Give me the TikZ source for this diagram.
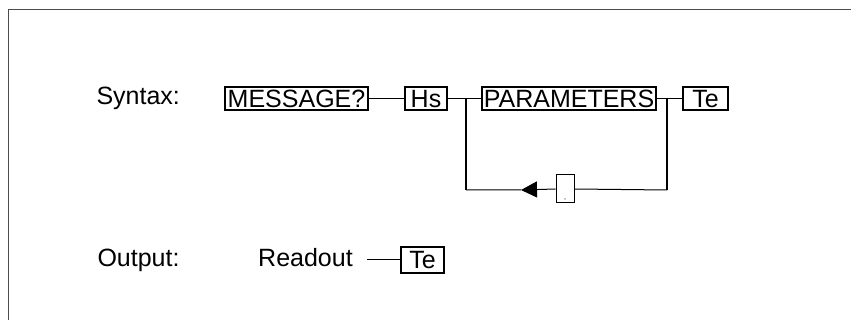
\documentclass[tikz,border=0pt]{standalone}
\usepackage{fontspec}
\setmainfont{Liberation Sans}
\usetikzlibrary{arrows.meta}
\tikzset{
  kasten/.style={draw,line width=1.1pt,inner sep=0pt,minimum height=23pt,text height=18pt,text depth=0pt},
  lauf/.style={line width=1pt},
  steg/.style={line width=2pt},
}
\begin{document}
\begin{tikzpicture}[x=1pt,y=-1pt,font=\fontsize{25}{30}\selectfont]
  \useasboundingbox (0,0) rectangle (851,320);
  \def\ZeileA{98.5}% Syntax-Zeile
  \def\Schleife{190}% Rueckfuehrung
  \def\ZeileB{260}% Output-Zeile
  % Rahmen
  \draw[line width=1.5pt,gray!60!black] (8.5,330)--(8.5,9.5)--(860,9.5);
  % Syntax
  \node[anchor=base west] (syn) at (93,105) {Syntax:};
  \node[kasten,minimum width=143pt] (msg) at (296.5,\ZeileA) {MESSAGE?};
  \node[kasten,minimum width=42pt] (hs) at (426,\ZeileA) {Hs};
  \node[kasten,minimum width=174pt] (par) at (569,\ZeileA) {PARAMETERS};
  \node[kasten,minimum width=45pt] (te) at (705.5,\ZeileA) {Te};
  \draw[lauf] (msg)--(hs) (hs)--(par) (par)--(te);
  % Schleife mit Komma
  \coordinate (lo) at (466,\ZeileA);
  \coordinate (lu) at (466,\Schleife);
  \coordinate (ro) at (667,\ZeileA);
  \coordinate (ru) at (667,\Schleife);
  \coordinate (spitze) at (521,\Schleife);
  \node[draw,line width=1pt,fill=white,inner sep=0pt,minimum width=18pt,minimum height=28pt,
        text height=24pt,text depth=2pt,font=\fontsize{7}{8}\selectfont] (komma) at (565,189) {,};
  \draw[steg] (lo)--(lu) (ro)--(ru);
  \draw[lauf] (lu)--(spitze) (komma.east)--(ru);
  \draw[lauf,-{Triangle[length=16pt,width=16pt]}] (komma.west)--(spitze);
  % Output
  \node[anchor=base west] (out) at (94,267) {Output:};
  \node[anchor=base west,inner sep=0pt] (readout) at (258,267) {Readout};
  \node[kasten,minimum width=43pt,minimum height=26pt] (te2) at (422.5,\ZeileB) {Te};
  \coordinate (rdende) at (367,\ZeileB);
  \draw[lauf] (rdende)--(te2);
\end{tikzpicture}
\end{document}
